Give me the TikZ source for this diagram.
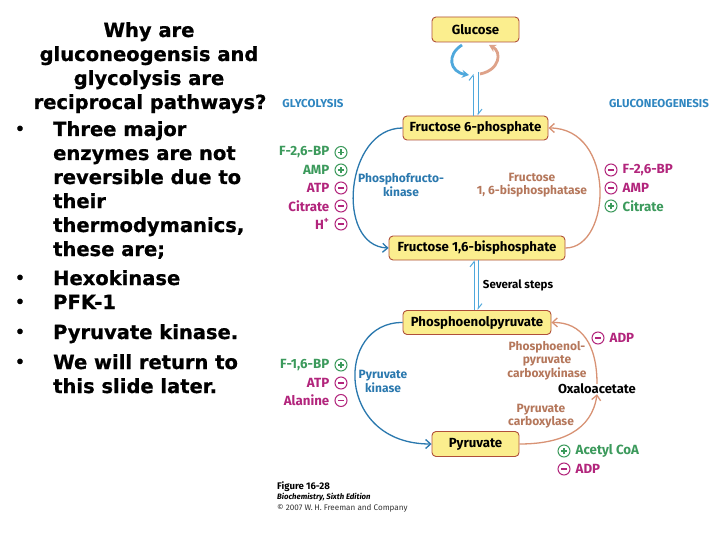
\documentclass[tikz,border=0pt]{standalone}
\usepackage{fontspec}
\setmainfont{DejaVu Sans}[BoldFeatures={FakeBold=0.8}]
\newfontfamily\dg{Fira Sans}
\usetikzlibrary{arrows.meta}
\definecolor{boxfill}{HTML}{FBEE8E}
\definecolor{boxedge}{HTML}{B0503A}
\definecolor{gblue}{HTML}{2A78AE}
\definecolor{lblue}{HTML}{4FA8DC}
\definecolor{salmon}{HTML}{D89274}
\definecolor{salmontext}{HTML}{B5775B}
\definecolor{pgreen}{HTML}{3C9A5C}
\definecolor{nmag}{HTML}{B2257C}
\definecolor{headblue}{HTML}{2F86C0}
\begin{document}
\begin{tikzpicture}[x=1pt,y=-1pt,
  lt/.style={font=\bfseries\fontsize{19.5}{24}\selectfont, inner sep=0pt},
  bul/.style={font=\bfseries\fontsize{15}{24}\selectfont, inner sep=0pt},
  met/.style={draw=boxedge, fill=boxfill, rounded corners=4pt, line width=0.9pt,
    font=\dg\bfseries\fontsize{13.2}{15}\selectfont, inner sep=0pt, minimum height=24pt},
  reg/.style={font=\dg\bfseries\fontsize{13.3}{15}\selectfont, inner sep=0pt},
  enz/.style={font=\dg\bfseries\fontsize{12}{13.5}\selectfont, align=center, inner sep=0pt},
  hdr/.style={font=\dg\bfseries\fontsize{11.5}{14}\selectfont, text=headblue, inner sep=0pt},
  pc/.style={circle, draw, line width=1pt, minimum size=12pt, inner sep=0pt,
    path picture={\draw[line width=1.1pt]
      ([xshift=-3pt]path picture bounding box.center) -- ([xshift=3pt]path picture bounding box.center)
      ([yshift=-3pt]path picture bounding box.center) -- ([yshift=3pt]path picture bounding box.center);}},
  mc/.style={circle, draw, line width=1pt, minimum size=12pt, inner sep=0pt,
    path picture={\draw[line width=1.1pt]
      ([xshift=-3pt]path picture bounding box.center) -- ([xshift=3pt]path picture bounding box.center);}},
  blarc/.style={draw=gblue, line width=1.3pt, -{Straight Barb[length=5pt,width=9pt]}},
  slarc/.style={draw=salmon, line width=1.3pt, -{Straight Barb[length=5pt,width=9pt]}},
  harp/.style={draw=lblue, line width=1pt},
]
\useasboundingbox[fill=white] (0,0) rectangle (720,540);

% ---------- left text ----------
\node[lt, anchor=base] (t1) at (149,37) {Why are};
\node[lt, anchor=base] (t2) at (149,61) {gluconeogensis and};
\node[lt, anchor=base] (t3) at (149,85) {glycolysis are};
\node[lt, anchor=base] (t4) at (150,109) {reciprocal pathways?};
\node[bul, anchor=base] (d1) at (20,134) {•};
\node[lt, anchor=base west] (b1) at (53,136) {Three major};
\node[lt, anchor=base west] (b2) at (53,160) {enzymes are not};
\node[lt, anchor=base west] (b3) at (53,184) {reversible due to};
\node[lt, anchor=base west] (b4) at (53,208) {their};
\node[lt, anchor=base west] (b5) at (53,232) {thermodymanics,};
\node[lt, anchor=base west] (b6) at (53,256) {these are;};
\node[bul, anchor=base] (d2) at (20,283) {•};
\node[lt, anchor=base west] (b7) at (53,285) {Hexokinase};
\node[bul, anchor=base] (d3) at (20,307) {•};
\node[lt, anchor=base west] (b8) at (53,309) {PFK-1};
\node[bul, anchor=base] (d4) at (20,337) {•};
\node[lt, anchor=base west] (b9) at (53,339) {Pyruvate kinase.};
\node[bul, anchor=base] (d5) at (20,367) {•};
\node[lt, anchor=base west] (b10) at (53,369) {We will return to};
\node[lt, anchor=base west] (b11) at (53,393) {this slide later.};

% ---------- metabolites ----------
\node[met, minimum width=87pt, minimum height=25pt] (glc) at (475.5,29.5) {Glucose};
\node[met, minimum width=145pt] (f6p) at (475.5,128) {Fructose 6-phosphate};
\node[met, minimum width=176pt] (fbp) at (477,248) {Fructose 1,6-bisphosphate};
\node[met, minimum width=148pt] (pep) at (477,322.5) {Phosphoenolpyruvate};
\node[met, minimum width=87pt, minimum height=25pt] (pyr) at (475.5,444) {Pyruvate};
\node[font=\dg\bfseries\fontsize{13}{15}\selectfont, inner sep=0pt] (oaa) at (597,389) {Oxaloacetate};

\node[hdr] (gly) at (313,104) {GLYCOLYSIS};
\node[hdr] (gng) at (659,104) {GLUCONEOGENESIS};

% ---------- glucose loop arrows ----------
\coordinate (gb1) at (462,45);
\coordinate (gb2) at (469,75);
\draw[draw=lblue, line width=2.8pt, -{Stealth[length=7pt,width=8pt]}] (gb1) .. controls (446,55) and (450,72) .. (gb2);
\coordinate (gs1) at (480,74);
\coordinate (gs2) at (489,45);
\draw[draw=salmon!85, line width=2.8pt, -{Stealth[length=7pt,width=8pt]}] (gs1) .. controls (500,70) and (502,52) .. (gs2);

% ---------- reversible double harpoons ----------
\coordinate (h1) at (473,74);
\coordinate (h2) at (478,72);
\draw[harp, -{Straight Barb[left,length=5pt,width=8pt]}] (f6p.north -| h1) -- (h1);
\draw[harp, -{Straight Barb[left,length=5pt,width=8pt]}] (h2) -- (f6p.north -| h2);
\coordinate (s1) at (474,262);
\coordinate (s2) at (478,262);
\draw[harp, -{Straight Barb[left,length=5pt,width=8pt]}] (pep.north -| s1) -- (fbp.south -| s1);
\draw[harp, -{Straight Barb[left,length=5pt,width=8pt]}] (fbp.south -| s2) -- (pep.north -| s2);
\node[font=\dg\bfseries\fontsize{11.5}{13}\selectfont, inner sep=0pt] (sev) at (518,285) {Several steps};

% ---------- arcs ----------
\draw[blarc] (f6p.west) .. controls (345,128) and (335,246) .. (fbp.west);
\draw[slarc] (fbp.east) .. controls (612,248) and (616,128) .. (f6p.east);
\draw[blarc] (pep.west) .. controls (335,322) and (335,444) .. (pyr.west);
\draw[slarc] (pyr.east) .. controls (562,444) and (592,430) .. (oaa.south);
\draw[slarc] (oaa.north) .. controls (597,345) and (582,322) .. (pep.east);

% ---------- enzyme labels ----------
\node[enz, text=gblue] (pfk) at (401,185) {Phosphofructo-\\kinase};
\node[enz, text=salmontext] (fbpase) at (532,185) {Fructose\\1, 6-bisphosphatase};
\node[enz, text=gblue] (pk) at (383,381.5) {Pyruvate\\kinase};
\node[enz, text=salmontext] (pepck) at (547,360.5) {Phosphoenol-\\pyruvate\\carboxykinase};
\node[enz, text=salmontext] (pc) at (541,416) {Pyruvate\\carboxylase};

% ---------- regulators, left upper ----------
\node[pc, color=pgreen] (c1) at (341,152.5) {};
\node[reg, text=pgreen, anchor=east] (r1) at ([xshift=-5pt]c1.west) {F-2,6-BP};
\node[pc, color=pgreen] (c2) at (341,170) {};
\node[reg, text=pgreen, anchor=east] (r2) at ([xshift=-5pt]c2.west) {AMP};
\node[mc, color=nmag] (c3) at (341,188) {};
\node[reg, text=nmag, anchor=east] (r3) at ([xshift=-5pt]c3.west) {ATP};
\node[mc, color=nmag] (c4) at (341,206) {};
\node[reg, text=nmag, anchor=east] (r4) at ([xshift=-5pt]c4.west) {Citrate};
\node[mc, color=nmag] (c5) at (341,224) {};
\node[reg, text=nmag, anchor=east] (r5) at ([xshift=-5pt]c5.west) {H\textsuperscript{+}};

% ---------- regulators, right upper ----------
\node[mc, color=nmag] (c6) at (611,170) {};
\node[reg, text=nmag, anchor=west] (r6) at ([xshift=5pt]c6.east) {F-2,6-BP};
\node[mc, color=nmag] (c7) at (611,188) {};
\node[reg, text=nmag, anchor=west] (r7) at ([xshift=5pt]c7.east) {AMP};
\node[pc, color=pgreen] (c8) at (611,206) {};
\node[reg, text=pgreen, anchor=west] (r8) at ([xshift=5pt]c8.east) {Citrate};

% ---------- regulators, lower ----------
\node[mc, color=nmag] (c9) at (598,338) {};
\node[reg, text=nmag, anchor=west] (r9) at ([xshift=5pt]c9.east) {ADP};
\node[pc, color=pgreen] (c10) at (341,365) {};
\node[reg, text=pgreen, anchor=east] (r10) at ([xshift=-5pt]c10.west) {F-1,6-BP};
\node[mc, color=nmag] (c11) at (341,383) {};
\node[reg, text=nmag, anchor=east] (r11) at ([xshift=-5pt]c11.west) {ATP};
\node[mc, color=nmag] (c12) at (341,400.5) {};
\node[reg, text=nmag, anchor=east] (r12) at ([xshift=-5pt]c12.west) {Alanine};
\node[pc, color=pgreen] (c13) at (564,451) {};
\node[reg, text=pgreen, anchor=west] (r13) at ([xshift=5pt]c13.east) {Acetyl CoA};
\node[mc, color=nmag] (c14) at (564,469) {};
\node[reg, text=nmag, anchor=west] (r14) at ([xshift=5pt]c14.east) {ADP};

% ---------- caption ----------
\node[font=\dg\bfseries\fontsize{9.6}{10}\selectfont, anchor=west, inner sep=0pt] (fig) at (277,487) {Figure 16-28};
\node[font=\dg\bfseries\itshape\fontsize{7.8}{8}\selectfont, anchor=west, inner sep=0pt] (bio) at (277,497.5) {Biochemistry, Sixth Edition};
\node[font=\dg\fontsize{8.1}{8}\selectfont, anchor=west, inner sep=0pt, text=black!80] (copy) at (277,508) {\textcopyright\ 2007 W.\,H. Freeman and Company};
\end{tikzpicture}
\end{document}
